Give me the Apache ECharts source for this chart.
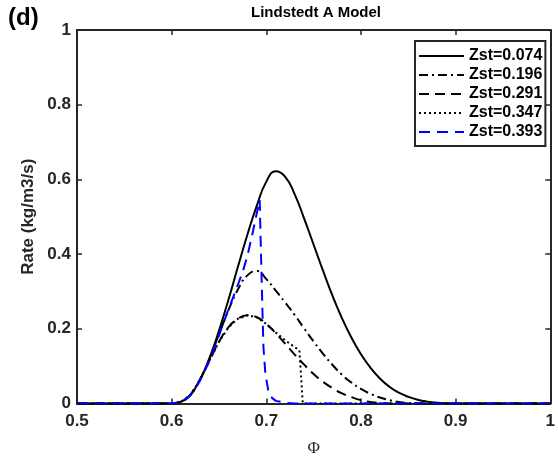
<!DOCTYPE html>
<html>
<head>
<meta charset="utf-8">
<script src="https://cdn.jsdelivr.net/npm/echarts@6/dist/echarts.min.js"></script>
<style>
html, body { margin: 0; padding: 0; background: #ffffff; }
#chart { width: 558px; height: 464px; }
</style>
</head>
<body>
<div id="chart"></div>
<script>
// Reaction rate vs equivalence ratio for several stoichiometric mixture fractions
const seriesNames = ['Zst=0.074', 'Zst=0.196', 'Zst=0.291', 'Zst=0.347', 'Zst=0.393'];

const phi074 = [0.5, 0.6, 0.61, 0.62, 0.63, 0.64, 0.65, 0.66, 0.67, 0.68, 0.69, 0.70, 0.71, 0.72, 0.73, 0.74, 0.75, 0.76, 0.77, 0.78, 0.79, 0.80, 0.81, 0.82, 0.83, 0.84, 0.85, 0.86, 0.87, 0.88, 0.89, 0.90, 1.0];
const rate074 = [0, 0, 0.005, 0.024, 0.064, 0.122, 0.195, 0.278, 0.366, 0.452, 0.53, 0.594, 0.622, 0.607, 0.56, 0.495, 0.425, 0.355, 0.288, 0.228, 0.176, 0.132, 0.096, 0.067, 0.045, 0.029, 0.018, 0.010, 0.005, 0.002, 0.0005, 0, 0];

const phi196 = [0.5, 0.6, 0.61, 0.62, 0.63, 0.64, 0.65, 0.66, 0.67, 0.68, 0.69, 0.70, 0.71, 0.72, 0.73, 0.74, 0.75, 0.76, 0.77, 0.78, 0.79, 0.80, 0.81, 0.82, 0.83, 0.84, 0.85, 0.86, 1.0];
const rate196 = [0, 0, 0.005, 0.024, 0.064, 0.12, 0.185, 0.25, 0.305, 0.343, 0.355, 0.333, 0.302, 0.27, 0.237, 0.201, 0.166, 0.133, 0.103, 0.077, 0.056, 0.039, 0.026, 0.016, 0.009, 0.004, 0.001, 0, 0];

const phi291 = [0.5, 0.6, 0.61, 0.62, 0.63, 0.64, 0.65, 0.66, 0.67, 0.68, 0.69, 0.70, 0.71, 0.72, 0.73, 0.74, 0.75, 0.76, 0.77, 0.78, 0.79, 0.80, 0.81, 0.82, 0.83, 1.0];
const rate291 = [0, 0, 0.005, 0.024, 0.064, 0.115, 0.165, 0.204, 0.227, 0.236, 0.231, 0.213, 0.188, 0.16, 0.131, 0.104, 0.079, 0.058, 0.041, 0.027, 0.017, 0.009, 0.004, 0.001, 0, 0];

const phi347 = [0.5, 0.6, 0.61, 0.62, 0.63, 0.64, 0.65, 0.66, 0.67, 0.68, 0.69, 0.70, 0.71, 0.72, 0.73, 0.735, 0.7385, 1.0];
const rate347 = [0, 0, 0.005, 0.024, 0.064, 0.115, 0.165, 0.204, 0.227, 0.236, 0.231, 0.213, 0.19, 0.169, 0.151, 0.142, 0, 0];

const phi393 = [0.5, 0.6, 0.61, 0.62, 0.63, 0.64, 0.65, 0.66, 0.67, 0.675, 0.68, 0.685, 0.69, 0.693, 0.694, 0.695, 0.696, 0.697, 0.699, 0.702, 0.706, 0.71, 0.72, 0.73, 1.0];
const rate393 = [0, 0, 0.004, 0.022, 0.062, 0.115, 0.182, 0.252, 0.318, 0.352, 0.395, 0.45, 0.51, 0.545, 0.44, 0.34, 0.24, 0.15, 0.08, 0.036, 0.015, 0.007, 0.002, 0, 0];

const xTicks = [0.5, 0.6, 0.7, 0.8, 0.9, 1];
const yTicks = [0, 0.2, 0.4, 0.6, 0.8, 1];

const pairs = (xs, ys) => xs.map((x, i) => [x, ys[i]]);

const AXIS = '#262626';
const FONT = '"Liberation Sans", Arial, Helvetica, sans-serif';

function boxAxis(pos, isX, main) {
  const ticks = isX ? xTicks : yTicks;
  return {
    type: 'value',
    position: pos,
    min: ticks[0],
    max: ticks[ticks.length - 1],
    interval: isX ? 0.1 : 0.2,
    axisLine: { show: true, onZero: false, lineStyle: { color: AXIS, width: 2 } },
    axisTick: { show: true, inside: true, length: 5, lineStyle: { color: AXIS, width: 1.5 } },
    splitLine: { show: false },
    axisLabel: {
      show: main,
      color: AXIS,
      fontFamily: FONT,
      fontWeight: 'bold',
      fontSize: 17,
      margin: isX ? 9 : 6,
      formatter: v => String(+v.toFixed(1))
    }
  };
}

const xMain = boxAxis('bottom', true, true);
xMain.name = 'Φ';
xMain.nameLocation = 'middle';
xMain.nameGap = 37;
xMain.nameTextStyle = { fontFamily: '"Liberation Serif", "Times New Roman", serif', fontSize: 17, color: AXIS };

const yMain = boxAxis('left', false, true);
yMain.name = 'Rate (kg/m3/s)';
yMain.nameLocation = 'middle';
yMain.nameGap = 39;
yMain.nameTextStyle = { fontFamily: FONT, fontWeight: 'bold', fontSize: 17, color: AXIS };

const styles = [
  { color: '#000000', type: 'solid' },
  { color: '#000000', type: [9, 4, 2, 4] },
  { color: '#000000', type: [10, 6] },
  { color: '#000000', type: [2, 3] },
  { color: '#0000ff', type: [11, 7] }
];
const dataSets = [
  pairs(phi074, rate074),
  pairs(phi196, rate196),
  pairs(phi291, rate291),
  pairs(phi347, rate347),
  pairs(phi393, rate393)
];
const smoothFlags = [0.5, 0.5, 0.5, false, false];

const chart = echarts.init(document.getElementById('chart'), null, { renderer: 'canvas' });
chart.setOption({
  animation: false,
  backgroundColor: '#ffffff',
  grid: { left: 77, right: 3, top: 30, bottom: 60.5, containLabel: false },
  xAxis: [xMain, boxAxis('top', true, false)],
  yAxis: [yMain, boxAxis('right', false, false)],
  graphic: [
    { type: 'text', left: 8, top: 6, style: { text: '(d)', font: 'bold 24px ' + FONT, fill: '#000' } },
    { type: 'text', x: 316, y: 13, style: { text: 'Lindstedt A Model', font: 'bold 15px ' + FONT, fill: '#000', textAlign: 'center', textVerticalAlign: 'middle' } }
  ],
  legend: {
    data: seriesNames,
    orient: 'vertical',
    left: 415,
    top: 41,
    itemWidth: 45,
    itemHeight: 14,
    itemGap: 3,
    padding: [7, 3, 6, 3],
    borderColor: AXIS,
    borderWidth: 2,
    backgroundColor: '#ffffff',
    itemStyle: { opacity: 0 },
    textStyle: { fontFamily: FONT, fontWeight: 'bold', fontSize: 16, color: '#000' }
  },
  series: seriesNames.map((name, i) => ({
    name: name,
    type: 'line',
    data: dataSets[i],
    symbol: 'none',
    smooth: smoothFlags[i],
    lineStyle: { color: styles[i].color, width: 2, type: styles[i].type },
    itemStyle: { color: styles[i].color },
    z: 2 + i
  }))
});
</script>
</body>
</html>
